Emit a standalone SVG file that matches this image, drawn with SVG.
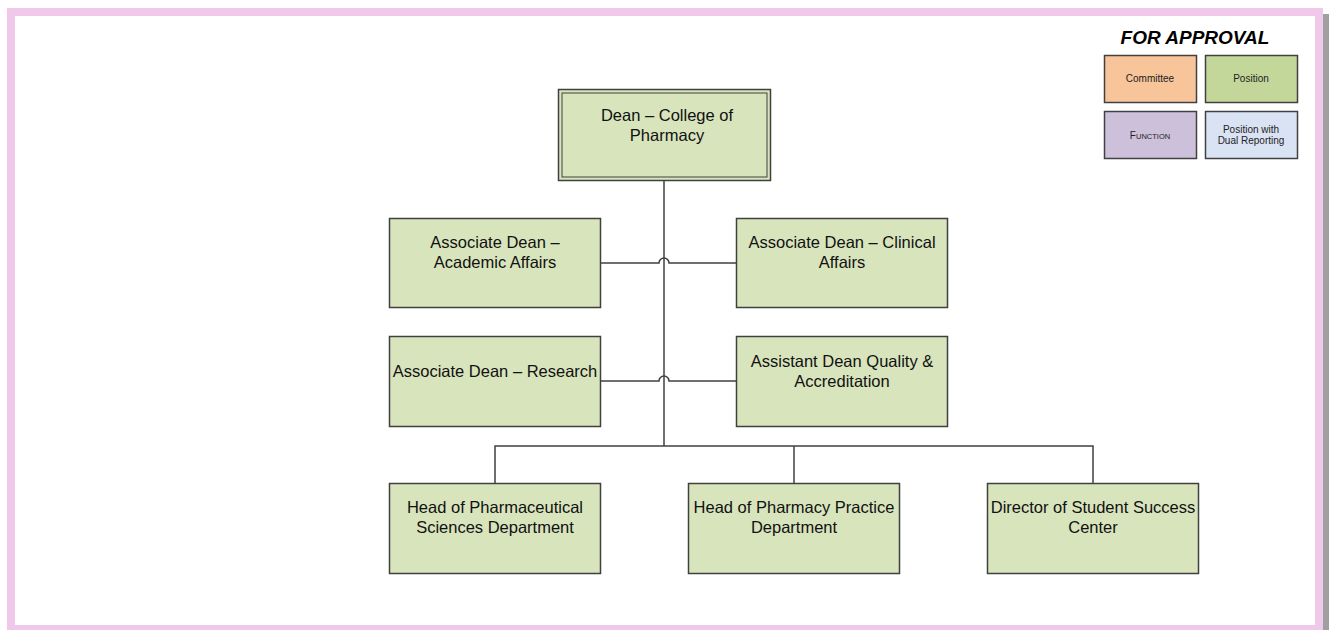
<svg xmlns="http://www.w3.org/2000/svg" width="1329" height="630" viewBox="0 0 1329 630">
<style>
.box{fill:#D8E4BC;stroke:#404040;stroke-width:1.5}
.t{font-family:"Liberation Sans",Arial,sans-serif;font-size:16.5px;fill:#111;text-anchor:middle}
.lt{font-family:"Liberation Sans",Arial,sans-serif;font-size:10px;fill:#222;text-anchor:middle}
.lg{stroke:#404040;stroke-width:1.5}
.c{fill:none;stroke:#404040;stroke-width:1.5}
</style>
<rect x="0" y="0" width="1329" height="630" fill="#fff"/>
<rect x="1323" y="14" width="6" height="620" fill="#a0a0a0"/>
<rect x="11" y="12" width="1308" height="617" fill="none" stroke="#EFC8EA" stroke-width="8"/>
<g id="connectors">
<path class="c" d="M664 181 V446"/>
<path class="c" d="M495 483 V446 H1093 V483"/>
<path class="c" d="M794 446 V483"/>
<path class="c" d="M601 263 H659 A5 5 0 0 1 669 263 H736"/>
<path class="c" d="M601 381 H659 A5 5 0 0 1 669 381 H736"/>
</g>
<g id="dean">
<rect class="box" x="558.5" y="89.5" width="212" height="91"/>
<rect x="562" y="93" width="205" height="84" fill="none" stroke="#404040" stroke-width="1"/>
<text class="t" x="667" y="121">Dean – College of</text>
<text class="t" x="667" y="141">Pharmacy</text>
</g>
<g id="ad-academic">
<rect class="box" x="389.5" y="218.5" width="211" height="89"/>
<text class="t" x="495" y="248">Associate Dean –</text>
<text class="t" x="495" y="268">Academic Affairs</text>
</g>
<g id="ad-clinical">
<rect class="box" x="736.5" y="218.5" width="211" height="89"/>
<text class="t" x="842" y="248">Associate Dean – Clinical</text>
<text class="t" x="842" y="268">Affairs</text>
</g>
<g id="ad-research">
<rect class="box" x="389.5" y="336.5" width="211" height="90"/>
<text class="t" x="495" y="377">Associate Dean – Research</text>
</g>
<g id="asst-quality">
<rect class="box" x="736.5" y="336.5" width="211" height="90"/>
<text class="t" x="842" y="367">Assistant Dean Quality &amp;</text>
<text class="t" x="842" y="387">Accreditation</text>
</g>
<g id="head-pharmsci">
<rect class="box" x="389.5" y="483.5" width="211" height="90"/>
<text class="t" x="495" y="513">Head of Pharmaceutical</text>
<text class="t" x="495" y="533">Sciences Department</text>
</g>
<g id="head-practice">
<rect class="box" x="688.5" y="483.5" width="211" height="90"/>
<text class="t" x="794" y="513">Head of Pharmacy Practice</text>
<text class="t" x="794" y="533">Department</text>
</g>
<g id="director-success">
<rect class="box" x="987.5" y="483.5" width="211" height="90"/>
<text class="t" x="1093" y="513">Director of Student Success</text>
<text class="t" x="1093" y="533">Center</text>
</g>
<g id="legend">
<text x="1195" y="44" font-family="Liberation Sans,Arial,sans-serif" font-size="19" font-weight="bold" font-style="italic" text-anchor="middle" fill="#000">FOR APPROVAL</text>
<rect class="lg" x="1104.5" y="55.5" width="92" height="47" fill="#F8C59A"/>
<text class="lt" x="1150" y="82">Committee</text>
<rect class="lg" x="1205.5" y="55.5" width="92" height="47" fill="#C4D79B"/>
<text class="lt" x="1251" y="82">Position</text>
<rect class="lg" x="1104.5" y="111.5" width="92" height="47" fill="#CCC0DA"/>
<text class="lt" x="1150" y="139">F<tspan font-size="7.5">UNCTION</tspan></text>
<rect class="lg" x="1205.5" y="111.5" width="92" height="47" fill="#DAE3F3"/>
<text class="lt" x="1251" y="133">Position with</text>
<text class="lt" x="1251" y="144">Dual Reporting</text>
</g>
</svg>
